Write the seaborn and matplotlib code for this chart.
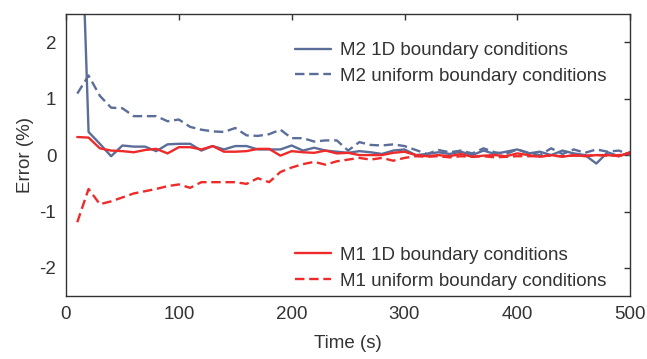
import numpy as np
import pandas as pd
import matplotlib
matplotlib.use("Agg")
import matplotlib.pyplot as plt
import seaborn as sns

time_s = list(range(10, 501, 10))

m2_1d = [6.5, 0.41, 0.20, -0.02, 0.17, 0.15, 0.15, 0.07, 0.19, 0.20,
         0.20, 0.08, 0.16, 0.10, 0.16, 0.16, 0.10, 0.10, 0.10, 0.17,
         0.08, 0.13, 0.08, 0.06, 0.04, 0.07, 0.05, 0.02, 0.08, 0.10,
         0.00, 0.02, 0.05, 0.02, 0.06, 0.00, 0.08, 0.02, 0.06, 0.10,
         0.03, 0.06, 0.00, 0.08, 0.03, 0.00, -0.15, 0.05, -0.02, 0.05]

m2_uniform = [1.09, 1.41, 1.05, 0.84, 0.83, 0.69, 0.69, 0.69, 0.60, 0.63,
              0.50, 0.45, 0.42, 0.41, 0.48, 0.35, 0.34, 0.37, 0.45, 0.30,
              0.30, 0.24, 0.26, 0.26, 0.08, 0.23, 0.18, 0.17, 0.19, 0.16,
              0.09, 0.02, 0.09, 0.05, 0.08, 0.03, 0.12, 0.05, 0.02, 0.10,
              0.04, 0.00, 0.12, 0.02, 0.10, 0.04, 0.10, 0.06, 0.08, 0.00]

m1_1d = [0.32, 0.31, 0.12, 0.08, 0.07, 0.05, 0.09, 0.11, 0.03, 0.14,
         0.14, 0.10, 0.16, 0.06, 0.06, 0.07, 0.11, 0.11, -0.01, 0.07,
         0.05, 0.04, 0.08, 0.03, 0.04, 0.00, 0.00, 0.00, 0.04, 0.06,
         0.00, -0.02, 0.00, -0.02, 0.02, -0.03, -0.01, 0.00, -0.02, 0.03,
         0.00, -0.03, 0.00, -0.03, 0.00, -0.02, 0.00, 0.00, -0.02, 0.05]

m1_uniform = [-1.19, -0.60, -0.87, -0.82, -0.75, -0.68, -0.64, -0.60, -0.55, -0.52,
              -0.58, -0.48, -0.48, -0.48, -0.48, -0.51, -0.41, -0.48, -0.30, -0.22,
              -0.16, -0.12, -0.17, -0.11, -0.08, -0.05, -0.08, -0.05, -0.10, -0.05,
              -0.02, -0.03, -0.02, -0.04, -0.02, -0.03, -0.02, -0.04, -0.03, -0.02,
              -0.02, -0.02, -0.01, -0.02, -0.01, -0.01, 0.00, -0.01, 0.00, 0.03]

labels = ["M2 1D boundary conditions", "M2 uniform boundary conditions",
          "M1 1D boundary conditions", "M1 uniform boundary conditions"]
x_ticks = [0, 100, 200, 300, 400, 500]
y_ticks = [-2, -1, 0, 1, 2]

sns.set_style("white")
plt.rcParams["font.family"] = ["Liberation Sans", "DejaVu Sans"]
plt.rcParams["axes.unicode_minus"] = False
FS = 13.5

blue = "#5b6d99"
red = "#ee2a2a"
ink = "#333333"

fig = plt.figure(figsize=(6.47, 3.59), dpi=100)
ax = fig.add_axes([0.102, 0.175, 0.872, 0.786])

series = [(m2_1d, labels[0], blue, "-"),
          (m2_uniform, labels[1], blue, (0, (4, 2))),
          (m1_1d, labels[2], red, "-"),
          (m1_uniform, labels[3], red, (0, (4, 2)))]

handles = []
for values, lab, col, ls in series:
    df = pd.DataFrame({"Time (s)": time_s, "Error (%)": values})
    sns.lineplot(data=df, x="Time (s)", y="Error (%)", ax=ax, color=col,
                 linestyle=ls, linewidth=1.7, label=lab, legend=False)
    handles.append(ax.lines[-1])

ax.set_xlim(0, 500)
ax.set_ylim(-2.5, 2.5)
ax.set_xticks(x_ticks)
ax.set_yticks(y_ticks)
ax.set_xlabel("Time (s)", fontsize=FS, color=ink, labelpad=9)
ax.set_ylabel("Error (%)", fontsize=FS, color=ink, labelpad=4)
ax.tick_params(direction="in", length=4, width=1, colors=ink,
               top=True, right=True, labelsize=FS, pad=7)
for sp in ax.spines.values():
    sp.set_color(ink)
    sp.set_linewidth(1.0)

leg_kw = dict(frameon=False, loc="center left", borderpad=0, borderaxespad=0,
              handlelength=1.9, handletextpad=0.5, labelspacing=0.45,
              fontsize=FS, labelcolor=ink)
leg1 = ax.legend(handles=handles[:2], labels=labels[:2],
                 bbox_to_anchor=(0.406, 0.824), **leg_kw)
ax.add_artist(leg1)
ax.legend(handles=handles[2:], labels=labels[2:],
          bbox_to_anchor=(0.406, 0.099), **leg_kw)

fig.savefig("out.png", dpi=100)
